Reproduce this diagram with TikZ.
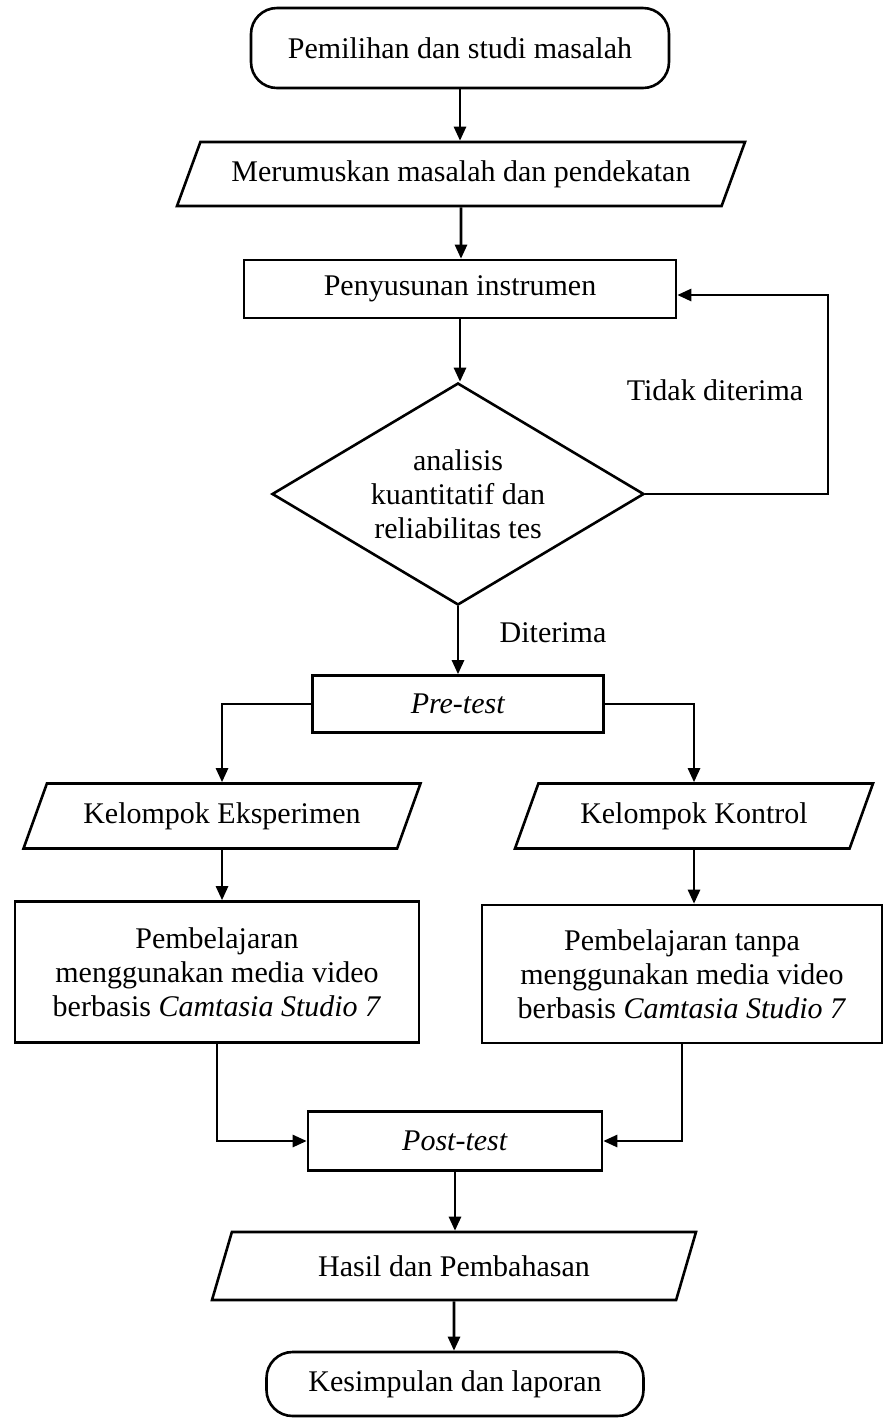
\documentclass[tikz,border=0pt]{standalone}
\usepackage{fontspec}
\setmainfont{Liberation Serif}
\usetikzlibrary{positioning, arrows.meta, shapes.geometric}
\tikzset{
  terminal/.style={draw, rounded corners=13pt, align=center},
  proses/.style={draw, rectangle, align=center},
  % io/.style={
  %   draw, trapezium
  % },
  data/.style={draw, trapezium, trapezium left angle=60, trapezium right angle=120,
    trapezium stretches body, align=center},
  keputusan/.style={draw, diamond, aspect=1.68, inner sep=0pt, align=center},
  -{Triangle[length=7pt,width=6pt]}
}
\begin{document}
\begin{tikzpicture}[x=0.5pt, y=-0.5pt, line width=1.3pt]
      \tikzstyle{every node}=[font=\fontsize{15}{17}\selectfont]
      \useasboundingbox (0,0) rectangle (883,1421);

      \node[terminal, minimum width=209pt, minimum height=40pt] (mulai) at (460,48) {Pemilihan dan studi masalah};
      \node[data, minimum width=284pt, minimum height=32pt] (rumus) at (461,174) {Merumuskan masalah dan pendekatan};
      \node[proses, minimum width=216pt, minimum height=29pt] (susun) at (460,289) {Penyusunan instrumen};
      \node[keputusan, minimum width=186pt, minimum height=111pt] (uji) at (458,494) {analisis\\kuantitatif dan\\reliabilitas tes};
      \node[proses, minimum width=145.5pt, minimum height=28.5pt] (pre) at (458,704) {\textit{Pre-test}};
      \node[data, minimum width=198.5pt, minimum height=32.5pt] (kelE) at (222,816) {Kelompok Eksperimen};
      \node[data, minimum width=179pt, minimum height=32.5pt] (kelK) at (694,816) {Kelompok Kontrol};
      \node[proses, minimum width=202pt, minimum height=70.5pt] (ajarE) at (217,972) {Pembelajaran\\menggunakan media video\\berbasis \textit{Camtasia Studio 7}};
      \node[proses, minimum width=200pt, minimum height=69pt] (ajarK) at (682,974) {Pembelajaran tanpa\\menggunakan media video\\berbasis \textit{Camtasia Studio 7}};
      \node[proses, minimum width=147pt, minimum height=29.5pt] (post) at (455,1141) {\textit{Post-test}};
      \node[data, minimum width=242pt, minimum height=34pt] (hasil) at (454,1266) {Hasil dan Pembahasan};
      \node[terminal, minimum width=188.5pt, minimum height=32pt] (selesai) at (455,1384) {Kesimpulan dan laporan};

      \node (tolak) at (715,390) {Tidak diterima};
      \node (terima) at (553,633) {Diterima};
      \coordinate (balik) at (828,295);

      \draw (mulai) -- (mulai |- rumus.north);
      \draw (rumus) -- (rumus |- susun.north);
      \draw (susun) -- (susun |- uji.north);
      \draw (uji.east) -| (balik) -- (balik -| susun.east);
      \draw (uji) -- (pre);
      \draw (pre.west) -| (kelE.north);
      \draw (pre.east) -| (kelK.north);
      \draw (kelE.south) -- (kelE.south |- ajarE.north);
      \draw (kelK.south) -- (kelK.south |- ajarK.north);
      \draw (ajarE.south) |- (post.west);
      \draw (ajarK.south) |- (post.east);
      \draw (post) -- (post |- hasil.north);
      \draw (hasil) -- (hasil |- selesai.north);

    \end{tikzpicture}
\end{document}
